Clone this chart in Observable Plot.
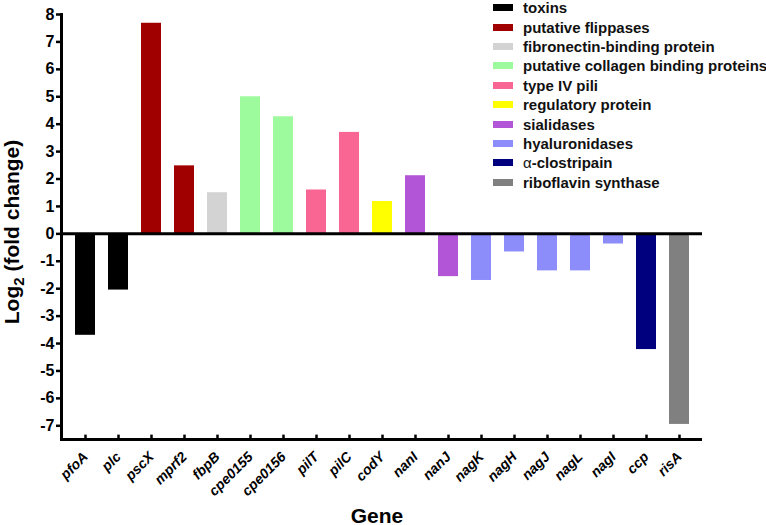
<!DOCTYPE html>
<html>
<head>
<meta charset="utf-8">
<script src="https://cdn.jsdelivr.net/npm/d3@7"></script>
<script src="https://cdn.jsdelivr.net/npm/@observablehq/plot@0.6"></script>
<style>
  html, body { margin: 0; padding: 0; background: #fff; }
  #wrap { position: relative; width: 766px; height: 525px; overflow: hidden; font-family: "Liberation Sans", Arial, sans-serif; }
  #legend { position: absolute; left: 493px; top: -2px; }
  .row { display: flex; align-items: center; height: 19.4px; }
  .sw { width: 20px; height: 7px; margin-right: 10px; flex: none; }
  .lab { font-size: 15px; font-weight: bold; color: #111; white-space: nowrap; line-height: 17px; }
</style>
</head>
<body>
<div id="wrap"><div id="legend"></div></div>
<script>
const genes = ["pfoA","plc","pscX","mprf2","fbpB","cpe0155","cpe0156","pilT","pilC","codY","nanI","nanJ","nagK","nagH","nagJ","nagL","nagI","ccp","risA"];
const values = [-3.7,-2.05,7.68,2.48,1.5,5.0,4.27,1.6,3.7,1.18,2.12,-1.56,-1.7,-0.66,-1.35,-1.35,-0.37,-4.22,-6.95];
const geneGroup = ["toxins","toxins","putative flippases","putative flippases","fibronectin-binding protein",
  "putative collagen binding proteins","putative collagen binding proteins","type IV pili","type IV pili",
  "regulatory protein","sialidases","sialidases","hyaluronidases","hyaluronidases","hyaluronidases",
  "hyaluronidases","hyaluronidases","α-clostripain","riboflavin synthase"];
const groups = ["toxins","putative flippases","fibronectin-binding protein","putative collagen binding proteins",
  "type IV pili","regulatory protein","sialidases","hyaluronidases","α-clostripain","riboflavin synthase"];
const groupColors = ["#000000","#a00000","#d3d3d3","#9dfa9d","#fa6693","#ffff00","#b255d6","#8c8cfb","#00007f","#808080"];
const yTicks = [-7,-6,-5,-4,-3,-2,-1,0,1,2,3,4,5,6,7,8];
const yDomain = [-7.5, 8];

const data = genes.map((g, i) => ({gene: g, value: values[i], group: geneGroup[i]}));

const chart = Plot.plot({
  width: 766,
  height: 525,
  marginLeft: 61,
  marginRight: 64,
  marginTop: 14,
  marginBottom: 86,
  style: {fontFamily: '"Liberation Sans", Arial, sans-serif', background: "transparent", color: "#000"},
  x: {domain: genes, paddingInner: 0.4, paddingOuter: 0.2, label: null},
  y: {domain: yDomain, label: null},
  color: {domain: groups, range: groupColors},
  marks: [
    Plot.barY(data, {x: "gene", y: "value", fill: "group"}),
    Plot.ruleY([0], {stroke: "#000", strokeWidth: 3}),
    Plot.ruleY([yDomain[0]], {stroke: "#000", strokeWidth: 3}),
    Plot.frame({anchor: "left", stroke: "#000", strokeWidth: 3}),
    Plot.ruleX(genes, {x: d => d, y1: yDomain[0], y2: yDomain[0] + 0.16, stroke: "#000", strokeWidth: 2.5}),
    Plot.axisY({ticks: yTicks, tickSize: 5, tickPadding: 2, fontSize: 16, fontWeight: "bold", strokeWidth: 2.5, label: null, tickFormat: d => String(d)}),
    Plot.axisX({tickSize: 0, tickPadding: 15, tickRotate: -45, fontSize: 14, fontWeight: "bold", fontStyle: "italic", label: null}),
    Plot.text(["Gene"], {frameAnchor: "bottom", lineAnchor: "bottom", dy: 83, dx: -5, fontSize: 21, fontWeight: "bold"})
  ]
});

// y axis title with subscript
const svg = d3.select(chart);
const t = svg.append("text")
  .attr("transform", "translate(19,232) rotate(-90)")
  .attr("text-anchor", "middle")
  .attr("font-size", 21)
  .attr("font-weight", "bold")
  .attr("fill", "#000");
t.append("tspan").text("Log");
t.append("tspan").attr("font-size", 15).attr("dy", 5).text("2");
t.append("tspan").attr("dy", -5).text(" (fold change)");

document.getElementById("wrap").prepend(chart);

// legend
const leg = d3.select("#legend");
groups.forEach((g, i) => {
  const r = leg.append("div").attr("class", "row");
  r.append("div").attr("class", "sw").style("background", groupColors[i]);
  const l = r.append("div").attr("class", "lab");
  if (g.startsWith("α")) {
    l.append("span").style("font-weight", "normal").text("α");
    l.append("span").text(g.slice(1));
  } else {
    l.text(g);
  }
});
</script>
</body>
</html>
